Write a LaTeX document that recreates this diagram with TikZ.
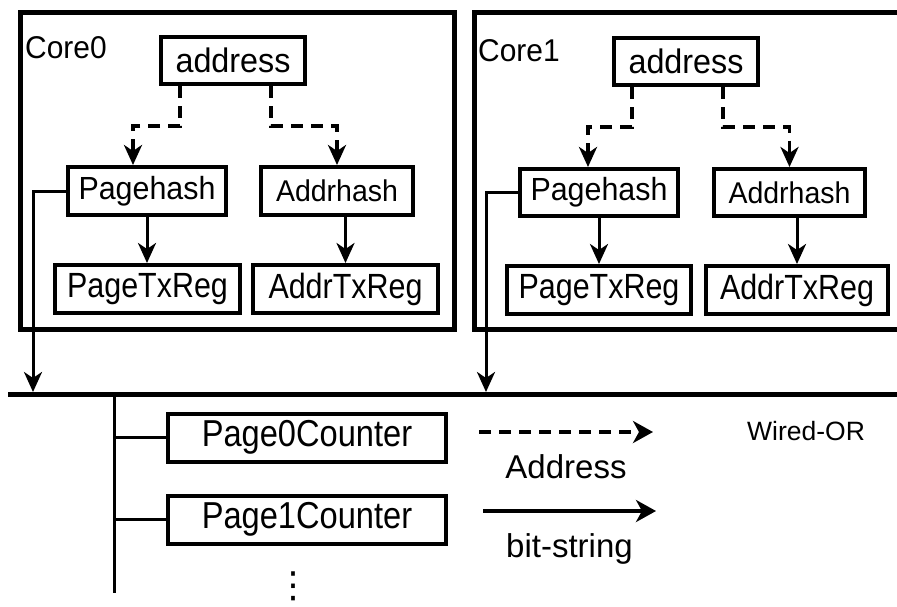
\documentclass[tikz,border=0pt]{standalone}
\usepackage{fontspec}
\setmainfont{Liberation Sans}
\newfontfamily\hashfont[FakeStretch=0.95]{Liberation Sans}
\newfontfamily\regfont[FakeStretch=0.87]{Liberation Sans}
\newfontfamily\symfont{DejaVu Sans}
\usetikzlibrary{positioning, arrows.meta}

\begin{document}
\begin{tikzpicture}[x=1pt, y=1pt,
    corebox/.style={draw, line width=5pt, inner sep=0pt},
    box/.style={draw, line width=4pt, inner sep=0pt, minimum height=48pt},
    hashbox/.style={box, font=\hashfont\fontsize{32}{36}\selectfont},
    regbox/.style={box, font=\regfont\fontsize{35}{40}\selectfont},
    cntbox/.style={box, minimum width=278pt, font=\regfont\fontsize{37.5}{42}\selectfont},
    corelbl/.style={inner sep=0pt, font=\hashfont\fontsize{31.5}{36}\selectfont},
    lbl/.style={inner sep=0pt, font=\fontsize{33}{38}\selectfont},
    arr/.style={-{Stealth[length=20pt, width=18pt, inset=6pt]}, line width=3pt},
    dasharr/.style={arr, line width=3.5pt, dash pattern=on 12pt off 8pt},
    bus/.style={line width=5.5pt},
    wire/.style={line width=3pt},
  ]
  \useasboundingbox (0,0) rectangle (897,-606);
  \clip (0,0) rectangle (897,-606);

  % core 0
  \node[corebox, minimum width=434pt, minimum height=317pt] (core0) at (237.5,-171) {};
  \node[corelbl, below right=26pt and 7pt of core0.north west] (core0lbl) {Core0};
  \node[hashbox, minimum width=144pt, minimum height=47pt, font=\hashfont\fontsize{34}{38}\selectfont] (addr0) at (233,-60.5) {address};
  \node[hashbox, minimum width=158pt] (ph0) at (147,-191) {Pagehash};
  \node[hashbox, minimum width=152pt, font=\hashfont\fontsize{30}{34}\selectfont] (ah0) at (337,-191) {Addrhash};
  \node[regbox, minimum width=185pt] (ptx0) at (147.5,-289) {PageTxReg};
  \node[regbox, minimum width=185pt] (atx0) at (345.5,-289) {AddrTxReg};

  \draw[dasharr] ([xshift=-53pt]addr0.south) -- ++(0,-40) -| ([xshift=-14pt]ph0.north);
  \draw[dasharr] ([xshift=38pt]addr0.south) -- ++(0,-40) -| (ah0.north);
  \draw[arr] (ph0.south) -- (ph0.south |- ptx0.north);
  \draw[arr] (ah0.south -| atx0.north) -- (atx0.north);

  % core 1
  \node[corebox, minimum width=455.5pt, minimum height=317pt] (core1) at (702.25,-171) {};
  \node[corelbl, below right=29pt and 6pt of core1.north west] (core1lbl) {Core1};
  \node[hashbox, minimum width=144pt, minimum height=47pt, font=\hashfont\fontsize{34}{38}\selectfont] (addr1) at (686,-61.5) {address};
  \node[hashbox, minimum width=158pt, minimum height=47pt] (ph1) at (599,-192.5) {Pagehash};
  \node[hashbox, minimum width=151pt, minimum height=47pt, font=\hashfont\fontsize{30}{34}\selectfont] (ah1) at (789.5,-192.5) {Addrhash};
  \node[regbox, minimum width=184pt] (ptx1) at (599,-290) {PageTxReg};
  \node[regbox, minimum width=182pt] (atx1) at (797,-290) {AddrTxReg};

  \draw[dasharr] ([xshift=-54pt]addr1.south) -- ++(0,-40) -| ([xshift=-11pt]ph1.north);
  \draw[dasharr] ([xshift=37pt]addr1.south) -- ++(0,-40) -| (ah1.north);
  \draw[arr] (ph1.south) -- (ph1.south |- ptx1.north);
  \draw[arr] (ah1.south -| atx1.north) -- (atx1.north);

  % shared bus
  \coordinate (busL) at (8,-394.5);
  \coordinate (busR) at (897,-394.5);
  \draw[bus] (busL) -- (busR);
  \coordinate (tap0) at (33,-392);
  \coordinate (tap1) at (486,-392);
  \draw[arr] (ph0.west) -| (tap0);
  \draw[arr] (ph1.west) -| (tap1);

  % counters
  \coordinate (trunkTop) at (114,-394.5);
  \coordinate (trunkBot) at (114,-593);
  \draw[wire] (trunkTop) -- (trunkBot);
  \node[cntbox] (pc0) at (307,-437.5) {Page0Counter};
  \node[cntbox] (pc1) at (307,-519.5) {Page1Counter};
  \draw[wire, line width=3.5pt] (pc0.west) -- (pc0.west -| trunkTop);
  \draw[wire, line width=3.5pt] (pc1.west) -- (pc1.west -| trunkTop);
  \node[font=\symfont\fontsize{36}{40}\selectfont, inner sep=0pt] (more) at (293,-586) {⋮};

  % legend
  \coordinate (dashL) at (479,-432);
  \coordinate (dashR) at (653,-432);
  \draw[dasharr, line width=4pt, -{Stealth[length=20pt, width=22pt, inset=6pt]}] (dashL) -- node[lbl, below=21pt] (addrlbl) {Address} (dashR);
  \coordinate (solL) at (483,-511);
  \coordinate (solR) at (656,-511);
  \draw[arr, line width=4.5pt, -{Stealth[length=20pt, width=22pt, inset=6pt]}] (solL) -- node[lbl, below=20pt] (bitlbl) {bit-string} (solR);
  \node[inner sep=0pt, font=\fontsize{26.5}{30}\selectfont] (wiredor) at (806,-431) {Wired-OR};

\end{tikzpicture}
\end{document}
